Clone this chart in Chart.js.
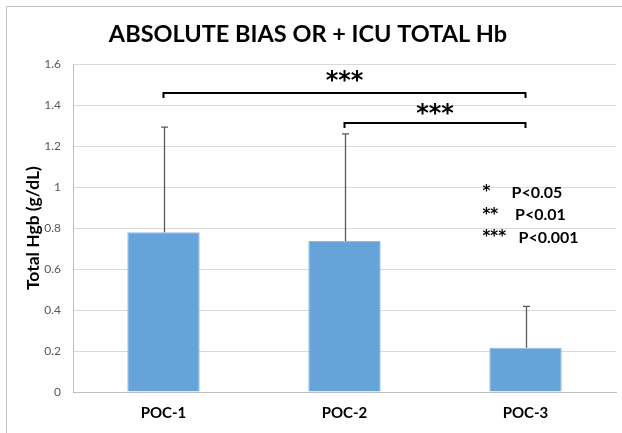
<!DOCTYPE html>
<html>
<head>
<meta charset="utf-8">
<script src="https://cdn.jsdelivr.net/npm/chart.js@4.4.1/dist/chart.umd.min.js"></script>
<style>
  html, body { margin: 0; padding: 0; background: #fff; }
  #wrap { width: 622px; height: 433px; position: relative; }
</style>
</head>
<body>
<div id="wrap"><canvas id="biasChart" width="622" height="433"></canvas></div>
<script>
// data
const categories = ["POC-1", "POC-2", "POC-3"];
const meanBias = [0.78, 0.737, 0.216];
const errorUpper = [1.293, 1.26, 0.418];
const yTicks = [0, 0.2, 0.4, 0.6, 0.8, 1, 1.2, 1.4, 1.6];

// significance brackets: from category, to category, level (y value), label
const bracketFrom = [0, 1];
const bracketTo = [2, 2];
const bracketLevel = [1.458, 1.312];
const bracketLabel = ["***", "***"];

// p-value key
const keyStars = ["*", "**", "***"];
const keyText = ["P<0.05", "P<0.01", "P<0.001"];

const FONT = "Lato, Carlito, Calibri, sans-serif";
const STAR_FONT = "'DejaVu Sans', sans-serif";

// draw text so that its ink is vertically centred on cy
function inkCentered(ctx, text, x, cy) {
  const m = ctx.measureText(text);
  const mid = (m.actualBoundingBoxAscent - m.actualBoundingBoxDescent) / 2;
  ctx.fillText(text, x, cy + mid);
}

const overlay = {
  id: "overlay",
  afterDatasetsDraw(chart) {
    const { ctx, scales: { x, y } } = chart;
    ctx.save();

    // error bars (upper only)
    ctx.strokeStyle = "#595959";
    ctx.lineWidth = 1.3;
    meanBias.forEach((v, i) => {
      const cx = Math.round(x.getPixelForValue(i)) + 0.5;
      const yTop = y.getPixelForValue(errorUpper[i]);
      const yBar = y.getPixelForValue(v);
      ctx.beginPath();
      ctx.moveTo(cx, yBar);
      ctx.lineTo(cx, yTop);
      ctx.moveTo(cx - 3.5, yTop);
      ctx.lineTo(cx + 3.5, yTop);
      ctx.stroke();
    });

    // brackets
    ctx.strokeStyle = "#000";
    ctx.lineWidth = 2;
    ctx.fillStyle = "#000";
    ctx.textBaseline = "alphabetic";
    ctx.textAlign = "center";
    bracketFrom.forEach((from, i) => {
      const x1 = x.getPixelForValue(from);
      const x2 = x.getPixelForValue(bracketTo[i]);
      const by = Math.round(y.getPixelForValue(bracketLevel[i]));
      ctx.beginPath();
      ctx.moveTo(x1, by + 5);
      ctx.lineTo(x1, by);
      ctx.lineTo(x2, by);
      ctx.lineTo(x2, by + 5);
      ctx.stroke();
      ctx.font = "bold 24px " + STAR_FONT;
      inkCentered(ctx, bracketLabel[i], (x1 + x2) / 2, by - (i === 0 ? 17 : 14));
    });

    // p-value key
    ctx.textAlign = "left";
    const keyX = x.getPixelForValue(2) - 43;
    keyStars.forEach((s, i) => {
      const ky = y.getPixelForValue(1.0) + 5 + i * 22.5;
      ctx.font = "bold 15px " + STAR_FONT;
      inkCentered(ctx, s, keyX, ky - 4);
      ctx.font = "bold 16px " + FONT;
      inkCentered(ctx, keyText[i], keyX + 29 + i * 3.5, ky);
    });

    ctx.restore();
  },
  afterDraw(chart) {
    // thin frame on top and left like the source image
    const { ctx } = chart;
    ctx.save();
    ctx.strokeStyle = "#c0c0c0";
    ctx.lineWidth = 1;
    ctx.beginPath();
    ctx.moveTo(6.5, 433);
    ctx.lineTo(6.5, 6.5);
    ctx.lineTo(622, 6.5);
    ctx.stroke();
    ctx.restore();
  }
};

new Chart(document.getElementById("biasChart").getContext("2d"), {
  type: "bar",
  data: {
    labels: categories,
    datasets: [{
      data: meanBias,
      backgroundColor: "#66a3d9",
      borderColor: "#90bce5",
      borderWidth: 1,
      barPercentage: 0.8,
      categoryPercentage: 0.5
    }]
  },
  options: {
    responsive: false,
    animation: false,
    layout: { padding: { left: 0, right: 6, top: 0, bottom: 0 } },
    plugins: {
      legend: { display: false },
      tooltip: { enabled: false },
      title: {
        display: true,
        text: "ABSOLUTE BIAS OR + ICU TOTAL Hb",
        color: "#000",
        font: { family: FONT, size: 23.5, weight: "bold" },
        padding: { top: 20, bottom: 16 }
      }
    },
    scales: {
      x: {
        grid: { display: false, drawTicks: false },
        border: { color: "#bfbfbf" },
        ticks: { color: "#000", padding: 12, font: { family: FONT, size: 15, weight: "bold" } },
        afterFit(scale) { scale.height = 41; }
      },
      y: {
        min: 0,
        max: 1.6,
        afterBuildTicks(scale) { scale.ticks = yTicks.map(v => ({ value: v })); },
        grid: { color: "#d9d9d9", drawTicks: false },
        border: { color: "#bfbfbf" },
        ticks: {
          color: "#595959",
          padding: 12,
          font: { family: FONT, size: 12 },
          callback: v => String(Math.round(v * 10) / 10)
        },
        title: {
          display: true,
          text: "Total Hgb (g/dL)",
          color: "#000",
          font: { family: FONT, size: 17.5, weight: "bold" },
          padding: { top: 23, bottom: 0 }
        },
        afterFit(scale) { scale.width = 73; }
      }
    }
  },
  plugins: [overlay]
});
</script>
</body>
</html>
